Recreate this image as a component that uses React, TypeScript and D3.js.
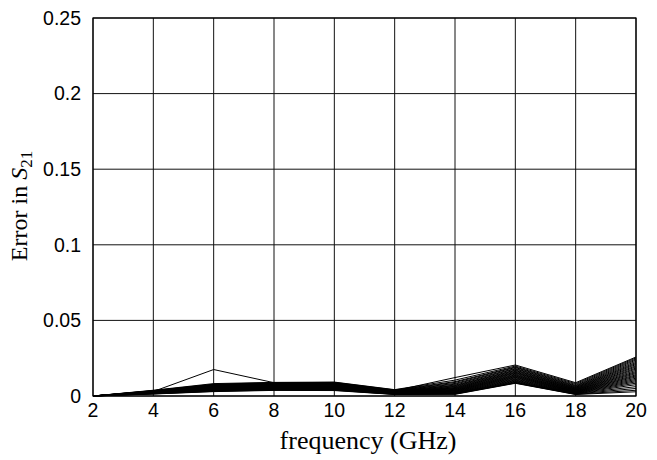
//@ts-nocheck
import * as d3 from "d3";
import { useEffect, useRef } from "react";

// frequency points (GHz)
const frequencies = [2, 4, 6, 8, 10, 12, 14, 16, 18, 20];

// error in S21, one curve per sample
const outlierCurve = [0, 0.003, 0.0175, 0.0088, 0.0085, 0.0035, 0.0122, 0.0205, 0.0088, 0.0258];
const upperCurves = [
  [0, 0.0038, 0.0082, 0.009, 0.0092, 0.0042, 0.0105, 0.0198, 0.0082, 0.0252],
  [0, 0.0036, 0.0078, 0.0088, 0.009, 0.004, 0.0095, 0.0192, 0.0076, 0.0245],
  [0, 0.0035, 0.0076, 0.0086, 0.0087, 0.0038, 0.009, 0.0188, 0.007, 0.0238],
  [0, 0.0034, 0.0074, 0.0084, 0.0085, 0.0036, 0.0083, 0.0182, 0.0066, 0.023],
  [0, 0.0033, 0.0073, 0.0082, 0.0083, 0.0035, 0.0078, 0.0178, 0.0062, 0.0222],
  [0, 0.0032, 0.0071, 0.008, 0.0081, 0.0033, 0.0072, 0.0172, 0.0058, 0.0215],
  [0, 0.0031, 0.0069, 0.0079, 0.0079, 0.0032, 0.0068, 0.0168, 0.0055, 0.0208],
  [0, 0.003, 0.0067, 0.0077, 0.0077, 0.003, 0.0064, 0.0163, 0.0052, 0.02],
  [0, 0.003, 0.0066, 0.0075, 0.0075, 0.0029, 0.006, 0.0158, 0.0049, 0.0193],
  [0, 0.0029, 0.0064, 0.0073, 0.0073, 0.0028, 0.0056, 0.0154, 0.0046, 0.0185],
];
const middleCurves = [
  [0, 0.0028, 0.0062, 0.0071, 0.0071, 0.0027, 0.0053, 0.015, 0.0044, 0.0178],
  [0, 0.0027, 0.006, 0.0069, 0.0068, 0.0026, 0.005, 0.0145, 0.0041, 0.017],
  [0, 0.0026, 0.0058, 0.0067, 0.0066, 0.0025, 0.0047, 0.014, 0.0039, 0.0162],
  [0, 0.0025, 0.0056, 0.0065, 0.0064, 0.0024, 0.0044, 0.0136, 0.0037, 0.0155],
  [0, 0.0024, 0.0055, 0.0063, 0.0062, 0.0023, 0.0041, 0.0132, 0.0034, 0.0148],
  [0, 0.0023, 0.0053, 0.0061, 0.006, 0.0022, 0.0038, 0.0128, 0.0032, 0.014],
  [0, 0.0022, 0.0051, 0.0059, 0.0058, 0.0021, 0.0036, 0.0124, 0.003, 0.0133],
  [0, 0.0022, 0.0049, 0.0057, 0.0056, 0.002, 0.0033, 0.012, 0.0028, 0.0126],
  [0, 0.0021, 0.0047, 0.0055, 0.0054, 0.0019, 0.0031, 0.0115, 0.0026, 0.0118],
  [0, 0.002, 0.0045, 0.0053, 0.0052, 0.0018, 0.0028, 0.0111, 0.0024, 0.011],
];
const lowerCurves = [
  [0, 0.0019, 0.0043, 0.0051, 0.005, 0.0017, 0.0026, 0.0106, 0.0022, 0.0102],
  [0, 0.0018, 0.0041, 0.0049, 0.0048, 0.0016, 0.0023, 0.0102, 0.002, 0.0094],
  [0, 0.0018, 0.0039, 0.0047, 0.0046, 0.0015, 0.0021, 0.0098, 0.0018, 0.0085],
  [0, 0.0017, 0.0037, 0.0045, 0.0044, 0.0014, 0.0019, 0.0094, 0.0016, 0.0075],
  [0, 0.0016, 0.0035, 0.0043, 0.0042, 0.0013, 0.0017, 0.009, 0.0015, 0.0062],
  [0, 0.0015, 0.0033, 0.0041, 0.004, 0.0012, 0.0015, 0.0088, 0.0013, 0.005],
  [0, 0.0014, 0.0031, 0.0039, 0.0038, 0.0011, 0.0013, 0.0086, 0.0011, 0.0038],
  [0, 0.0013, 0.0029, 0.0037, 0.0036, 0.001, 0.0011, 0.0084, 0.001, 0.0028],
];

const xTicks = [2, 4, 6, 8, 10, 12, 14, 16, 18, 20];
const yTicks = [0, 0.05, 0.1, 0.15, 0.2, 0.25];

const App = () => {
  const ref = useRef(null);

  useEffect(() => {
    const width = 657, height = 460;
    const margin = { top: 18, right: 21, bottom: 64, left: 93 };
    const svg = d3.select(ref.current);
    svg.selectAll("*").remove();
    svg.attr("width", width).attr("height", height);

    const x = d3.scaleLinear().domain([2, 20]).range([margin.left, width - margin.right]);
    const y = d3.scaleLinear().domain([0, 0.25]).range([height - margin.bottom, margin.top]);

    // grid
    const g = svg.append("g");
    g.selectAll(".vg").data(xTicks).enter().append("line")
      .attr("x1", d => x(d)).attr("x2", d => x(d))
      .attr("y1", y(0)).attr("y2", y(0.25))
      .attr("stroke", "#111").attr("stroke-width", 1);
    g.selectAll(".hg").data(yTicks).enter().append("line")
      .attr("x1", x(2)).attr("x2", x(20))
      .attr("y1", d => y(d)).attr("y2", d => y(d))
      .attr("stroke", "#111").attr("stroke-width", 1);

    // curves
    const curves = [outlierCurve, ...upperCurves, ...middleCurves, ...lowerCurves];
    const line = d3.line()
      .x((d, i) => x(frequencies[i]))
      .y(d => y(d));
    svg.append("g").selectAll("path").data(curves).enter().append("path")
      .attr("d", line)
      .attr("fill", "none")
      .attr("stroke", "#000")
      .attr("stroke-width", 1);

    // frame
    svg.append("rect")
      .attr("x", x(2)).attr("y", y(0.25))
      .attr("width", x(20) - x(2)).attr("height", y(0) - y(0.25))
      .attr("fill", "none").attr("stroke", "#000").attr("stroke-width", 1.2);

    // tick labels
    svg.append("g").selectAll("text").data(xTicks).enter().append("text")
      .attr("x", d => x(d)).attr("y", y(0) + 21)
      .attr("text-anchor", "middle")
      .style("font-family", "'Liberation Sans', Arial, sans-serif")
      .style("font-size", "19.5px")
      .text(d => d);
    svg.append("g").selectAll("text").data(yTicks).enter().append("text")
      .attr("x", margin.left - 12).attr("y", d => y(d))
      .attr("dy", "0.35em")
      .attr("text-anchor", "end")
      .style("font-family", "'Liberation Sans', Arial, sans-serif")
      .style("font-size", "19.5px")
      .text(d => d3.format("")(d));

    // axis titles
    svg.append("text")
      .attr("x", 368).attr("y", 449)
      .attr("text-anchor", "middle")
      .style("font-family", "'Liberation Serif', 'Times New Roman', serif")
      .style("font-size", "26px")
      .text("frequency (GHz)");

    const yl = svg.append("text")
      .attr("transform", `translate(27,206) rotate(-90)`)
      .attr("text-anchor", "middle")
      .style("font-family", "'Liberation Serif', 'Times New Roman', serif")
      .style("font-size", "24px");
    yl.append("tspan").text("Error in ");
    yl.append("tspan").style("font-style", "italic").text("S");
    yl.append("tspan").attr("dy", 5).style("font-size", "17px").text("21");
  }, []);

  return (
    <div style={{ position: "absolute", left: 0, top: 0 }}>
      <svg ref={ref}></svg>
    </div>
  );
};

export default App;
